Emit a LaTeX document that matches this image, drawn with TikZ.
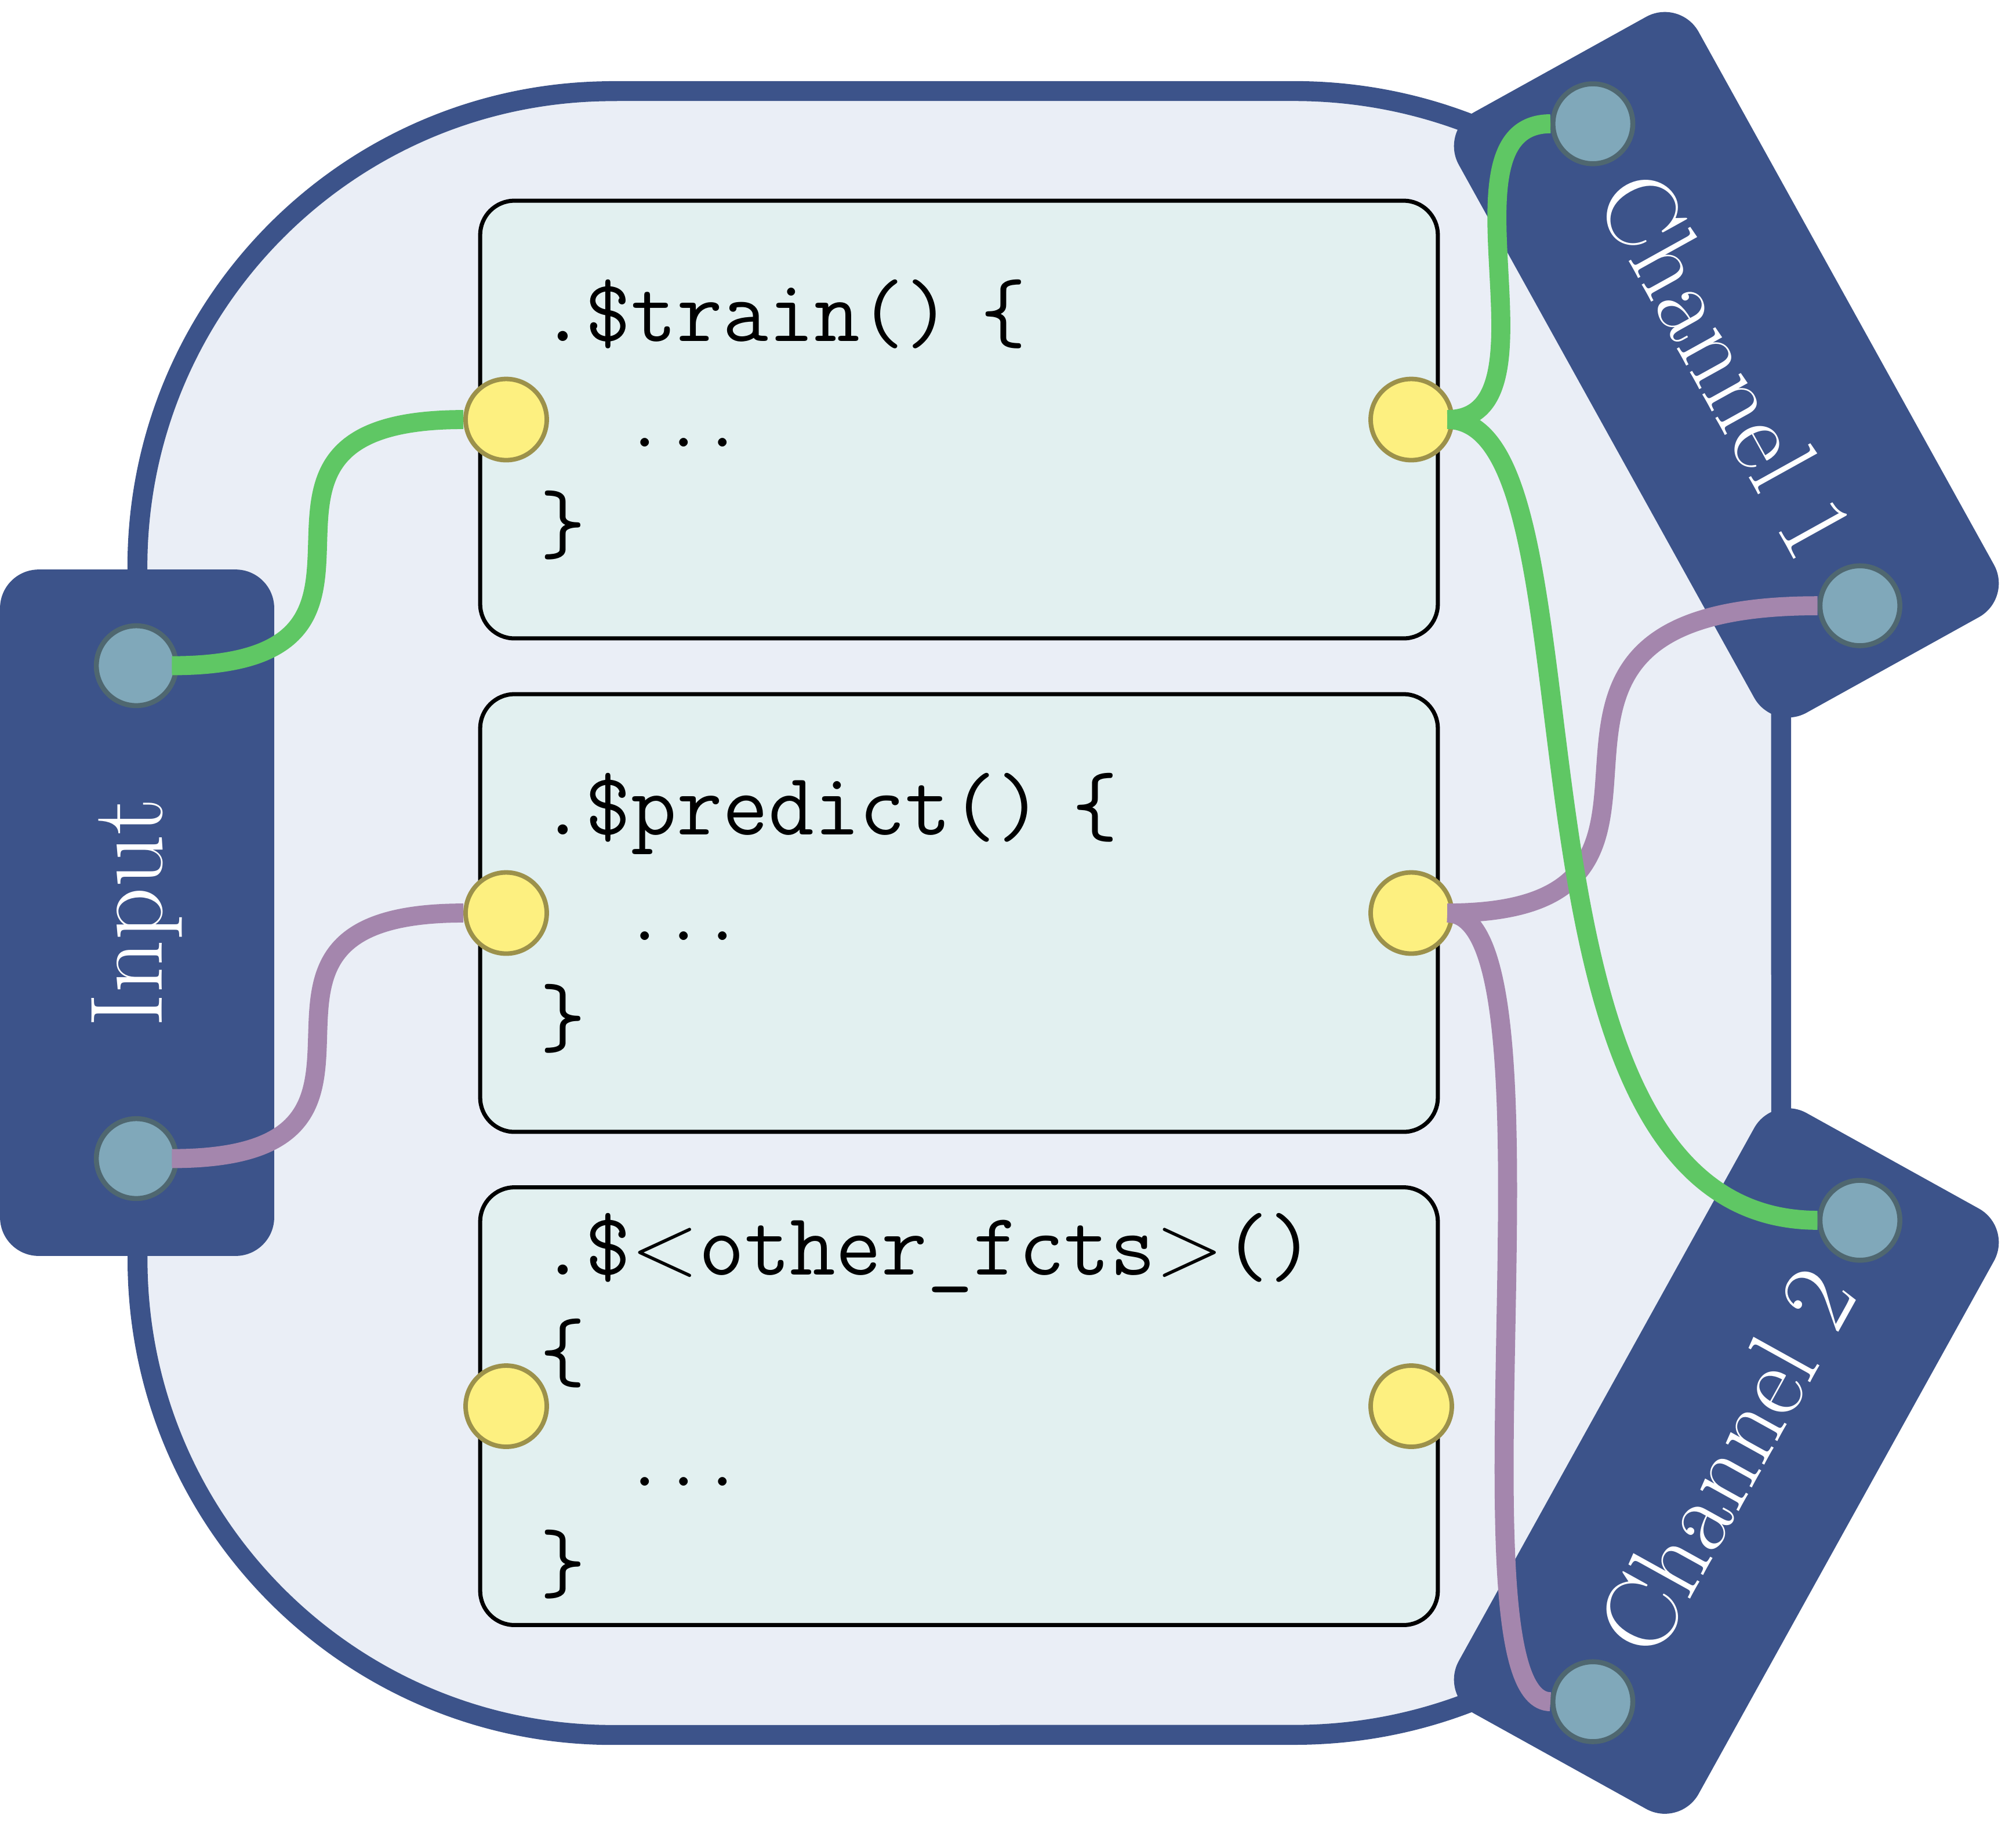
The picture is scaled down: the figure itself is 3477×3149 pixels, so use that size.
\RequirePackage{fix-cm}
\documentclass[tikz,border=0pt]{standalone}
\usetikzlibrary{calc}
\definecolor{navy}{HTML}{3C538A}
\definecolor{bgfill}{HTML}{EAEEF6}
\definecolor{codefill}{HTML}{E2F0F0}
\definecolor{portY}{HTML}{FDF080}
\definecolor{portYd}{HTML}{9C914B}
\definecolor{portB}{HTML}{80A8BA}
\definecolor{portBd}{HTML}{4F6770}
\definecolor{wgreen}{HTML}{5FC764}
\definecolor{wpurple}{HTML}{A486AD}
\newcommand\codefont{\fontsize{19.6pt}{23.3pt}\selectfont\ttfamily}
\newcommand\labelfont{\fontsize{22.8pt}{27pt}\selectfont}
\begin{document}
\begin{tikzpicture}[x=0.0045cm,y=0.0045cm,
  codebox/.style={draw=black, line width=0.9pt, fill=codefill, rounded corners=0.2655cm,
    minimum height=3.3975cm, text width=6.507cm, inner xsep=0.4635cm, inner ysep=0pt,
    align=left, font=\codefont},
  portbox/.style={fill=navy, rounded corners=0.3cm, minimum width=5.328cm,
    minimum height=2.1285cm, inner sep=0pt, text=white, font=\labelfont},
  yport/.style={circle, draw=portYd, fill=portY, line width=1pt, minimum size=0.63cm, inner sep=0pt},
  bport/.style={circle, draw=portBd, fill=portB, line width=1.1pt, minimum size=0.62cm, inner sep=0pt},
  wire/.style={line width=4.2pt},
]
\useasboundingbox (0,-3149) rectangle (3477,0);
% outer body
\path[fill=bgfill, draw=navy, line width=4.4pt]
  (1057,-157) -- (2232,-157) arc[start angle=90,end angle=0,radius=3.78cm]
  -- (3072,-2152) arc[start angle=0,end angle=-90,radius=3.78cm]
  -- (1057,-2992) arc[start angle=-90,end angle=-180,radius=3.69cm]
  -- (237,-977) arc[start angle=180,end angle=90,radius=3.69cm] -- cycle;
% code boxes
\node[codebox] (train) at (1654,-723.5) {.\$train() \{\\\hspace*{1.05em}$\ldots$\\\}};
\node[codebox] (predict) at (1654,-1574.5) {.\$predict() \{\\\hspace*{1.05em}$\ldots$\\\}};
\node[codebox] (other) at (1654,-2425) {.\$$<$other\_fcts$>$()\\\{\\\hspace*{1.05em}$\ldots$\\\}};
% channel boxes
\node[portbox, rotate=90] (input) at (236.5,-1574) {Input};
\node[portbox, rotate=-61] (ch1) at (2977.5,-629) {Channel 1};
\node[portbox, rotate=61] (ch2) at (2977.5,-2519.5) {Channel 2};
% ports
\node[bport] (in1) at (235,-1148) {};
\node[bport] (in2) at (235,-1998) {};
\node[bport] (c1a) at (2747.2,-213.4) {};
\node[bport] (c1b) at (3207.8,-1044.6) {};
\node[bport] (c2a) at (3207.8,-2104.4) {};
\node[bport] (c2b) at (2747.2,-2934.6) {};
\node[yport] (trL) at (873,-723.5) {};
\node[yport] (trR) at (2434,-723.5) {};
\node[yport] (prL) at (873,-1574.5) {};
\node[yport] (prR) at (2434,-1574.5) {};
\node[yport] (otL) at (873,-2425) {};
\node[yport] (otR) at (2434,-2425) {};
% wires
\draw[wire,wpurple] ([xshift=-1.5pt]in2.east) .. controls +(490,0) and +(-490,0) .. (prL.west);
\draw[wire,wpurple] ([xshift=-1.5pt]prR.east) .. controls +(540,0) and +(-660,0) .. (c1b.west);
\draw[wire,wpurple] ([xshift=-1.5pt]prR.east) .. controls +(219,0) and +(-185,0) .. (c2b.west);
\draw[wire,wgreen] ([xshift=-1.5pt]in1.east) .. controls +(490,0) and +(-490,0) .. (trL.west);
\draw[wire,wgreen] ([xshift=-1.5pt]trR.east) .. controls +(205,0) and +(-205,0) .. (c1a.west);
\draw[wire,wgreen] ([xshift=-1.5pt]trR.east) .. controls +(290,0) and +(-590,0) .. (c2a.west);
\end{tikzpicture}
\end{document}
